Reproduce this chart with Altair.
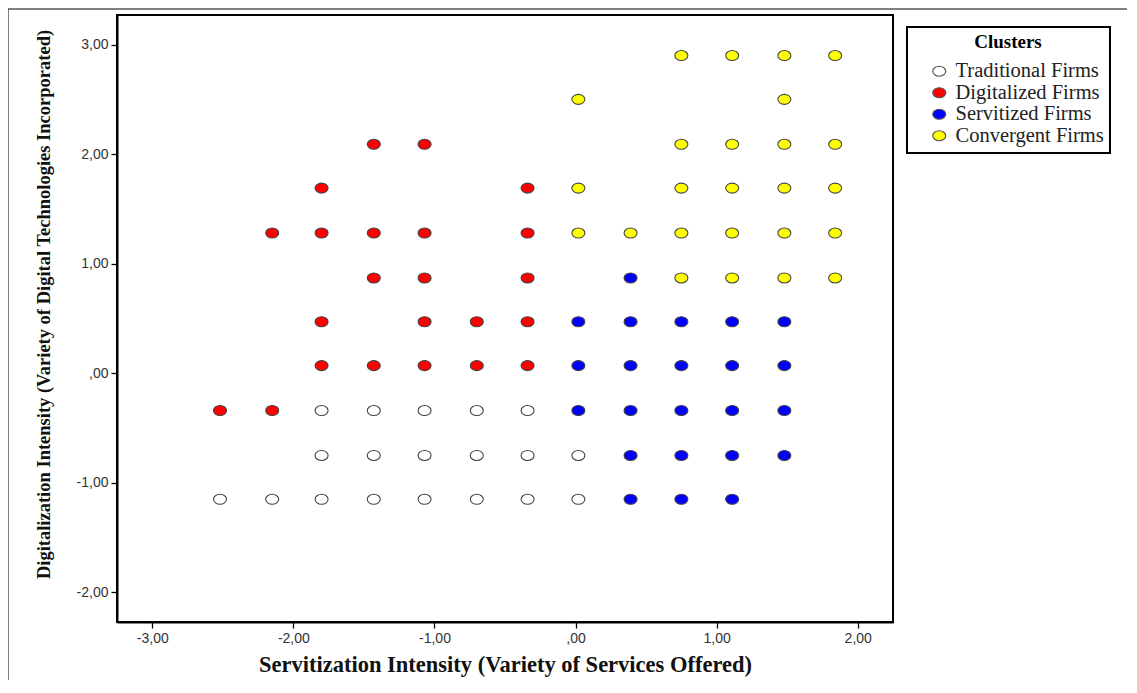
import altair as alt
import pandas as pd

clusters = ["Traditional Firms", "Digitalized Firms", "Servitized Firms", "Convergent Firms"]
colors = ["#FFFFFF", "#FF0000", "#0000FF", "#FFFF00"]

trad_x = [-1.80, -1.43, -1.07, -0.70, -0.34,
          -1.80, -1.43, -1.07, -0.70, -0.34, 0.02,
          -2.52, -2.15, -1.80, -1.43, -1.07, -0.70, -0.34, 0.02]
trad_y = [-0.34, -0.34, -0.34, -0.34, -0.34,
          -0.75, -0.75, -0.75, -0.75, -0.75, -0.75,
          -1.15, -1.15, -1.15, -1.15, -1.15, -1.15, -1.15, -1.15]

dig_x = [-1.43, -1.07,
         -1.80, -0.34,
         -2.15, -1.80, -1.43, -1.07, -0.34,
         -1.43, -1.07, -0.34,
         -1.80, -1.07, -0.70, -0.34,
         -1.80, -1.43, -1.07, -0.70, -0.34,
         -2.52, -2.15]
dig_y = [2.09, 2.09,
         1.69, 1.69,
         1.28, 1.28, 1.28, 1.28, 1.28,
         0.87, 0.87, 0.87,
         0.47, 0.47, 0.47, 0.47,
         0.07, 0.07, 0.07, 0.07, 0.07,
         -0.34, -0.34]

serv_x = [0.39,
          0.02, 0.39, 0.75, 1.11, 1.48,
          0.02, 0.39, 0.75, 1.11, 1.48,
          0.02, 0.39, 0.75, 1.11, 1.48,
          0.39, 0.75, 1.11, 1.48,
          0.39, 0.75, 1.11]
serv_y = [0.87,
          0.47, 0.47, 0.47, 0.47, 0.47,
          0.07, 0.07, 0.07, 0.07, 0.07,
          -0.34, -0.34, -0.34, -0.34, -0.34,
          -0.75, -0.75, -0.75, -0.75,
          -1.15, -1.15, -1.15]

conv_x = [0.75, 1.11, 1.48, 1.84,
          0.02, 1.48,
          0.75, 1.11, 1.48, 1.84,
          0.02, 0.75, 1.11, 1.48, 1.84,
          0.02, 0.39, 0.75, 1.11, 1.48, 1.84,
          0.75, 1.11, 1.48, 1.84]
conv_y = [2.90, 2.90, 2.90, 2.90,
          2.50, 2.50,
          2.09, 2.09, 2.09, 2.09,
          1.69, 1.69, 1.69, 1.69, 1.69,
          1.28, 1.28, 1.28, 1.28, 1.28, 1.28,
          0.87, 0.87, 0.87, 0.87]

x_ticks = [-3, -2, -1, 0, 1, 2]
y_ticks = [-2, -1, 0, 1, 2, 3]

rows = []
for name, xs, ys in [(clusters[0], trad_x, trad_y), (clusters[1], dig_x, dig_y),
                     (clusters[2], serv_x, serv_y), (clusters[3], conv_x, conv_y)]:
    for a, b in zip(xs, ys):
        rows.append({"x": a, "y": b, "Clusters": name})
df = pd.DataFrame(rows)

ellipse = "M-1.3,0 A1.3,1 0 1,0 1.3,0 A1.3,1 0 1,0 -1.3,0 Z"
label_expr = ("datum.value == 0 ? ',00' : (datum.value < 0 ? '-' + replace(format(-datum.value, '.2f'), '.', ',')"
              " : replace(format(datum.value, '.2f'), '.', ','))")

points = alt.Chart(df).mark_point(
    shape=ellipse, filled=True, size=100, stroke="#444444", strokeWidth=1.1, opacity=1
).encode(
    x=alt.X("x:Q", scale=alt.Scale(domain=[-3.25, 2.25], nice=False, zero=False),
            axis=alt.Axis(values=x_ticks, labelExpr=label_expr, grid=False,
                          title="Servitization Intensity (Variety of Services Offered)",
                          titleFont="Liberation Serif", titleFontSize=22.5, titleFontWeight="bold",
                          titlePadding=8)),
    y=alt.Y("y:Q", scale=alt.Scale(domain=[-2.27, 3.27], nice=False, zero=False),
            axis=alt.Axis(values=y_ticks, labelExpr=label_expr, grid=False,
                          title="Digitalization Intensity (Variety of Digital Technologies Incorporated)",
                          titleFont="Liberation Serif", titleFontSize=18.5, titleFontWeight="bold",
                          titlePadding=23, titleY=289)),
    fill=alt.Fill("Clusters:N", sort=clusters,
                  scale=alt.Scale(domain=clusters, range=colors),
                  legend=alt.Legend(
                      orient="none", legendX=790, legendY=12,
                      title="Clusters", titleFont="Liberation Serif", titleFontSize=19,
                      titleFontWeight="bold", titleAnchor="middle", titleColor="black",
                      labelFont="Liberation Serif", labelFontSize=20.5, labelColor="#222222",
                      labelExpr="datum.label + '\u00a0\u00a0\u00a0\u00a0'",
                      symbolType=ellipse, symbolSize=100, symbolStrokeColor="#555555",
                      symbolStrokeWidth=1.2, symbolOpacity=1, symbolOffset=16,
                      strokeColor="black", padding=6,
                      rowPadding=0.5, labelOffset=6, titlePadding=9, fillColor="white")),
)

frame = alt.Chart(pd.DataFrame({"a": [0]})).mark_rect(
    fillOpacity=0, stroke="black", strokeWidth=1
).encode(x=alt.value(-109), x2=alt.value(1014), y=alt.value(-6), y2=alt.value(668))

chart = alt.layer(frame, points).properties(
    width=776, height=607,
    autosize=alt.AutoSizeParams(type="none"),
    padding={"left": 109, "top": 7, "right": 234, "bottom": 58},
).configure_view(
    stroke="black", strokeWidth=2
).configure_axis(
    labelFont="Liberation Sans", labelFontSize=14, labelColor="#333333",
    domainColor="black", domainWidth=2, tickColor="black", tickSize=6, tickWidth=1.3,
    titleColor="#111111", labelPadding=3
).configure_legend(
    strokeWidth=2
)

chart.save("out.html", embed_options={"renderer": "svg", "actions": False})
